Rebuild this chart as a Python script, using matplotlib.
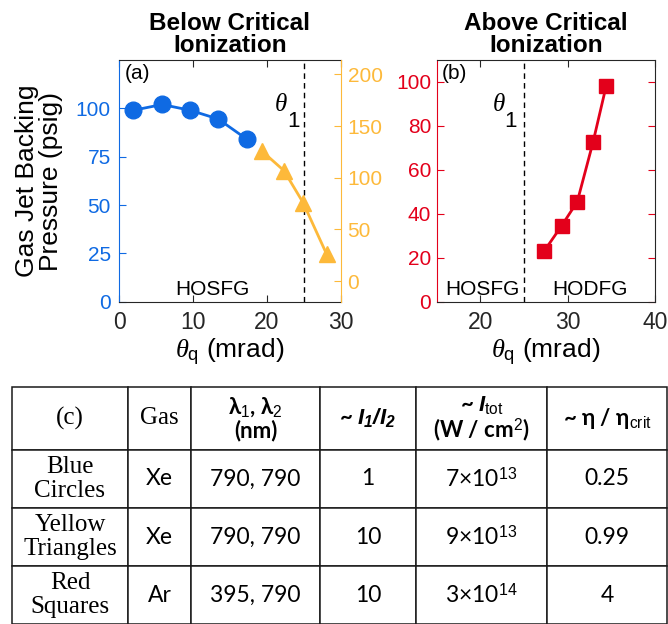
import matplotlib
matplotlib.use("Agg")
import matplotlib.pyplot as plt

# ---------------------------------------------------------------------------
# Data
# ---------------------------------------------------------------------------
blue_theta = [1.9, 5.8, 9.6, 13.4, 17.3]
blue_press = [99, 102, 99, 94.5, 84]

yellow_theta = [19.3, 22.3, 24.9, 28.1]
yellow_press = [126, 107, 76, 26]

red_theta = [27.3, 29.3, 31.1, 32.9, 34.4]
red_press = [23, 34.5, 45.5, 72.5, 98]

theta1 = 25

table_header = ["(c)", "Gas", "λ$_1$, λ$_2$\n(nm)",
                r"~ $\mathbfit{I_1 / I_2}$",
                "~ $\\mathbfit{I}_{\\mathrm{tot}}$\n(W / cm$^2$)",
                "~ η / η$_{\\mathrm{crit}}$"]
table_labels = ["Blue\nCircles", "Yellow\nTriangles", "Red\nSquares"]
table_gas = ["Xe", "Xe", "Ar"]
table_lambda = ["790, 790", "790, 790", "395, 790"]
table_ratio = ["1", "10", "10"]
table_itot = ["7×10$^{13}$", "9×10$^{13}$", "3×10$^{14}$"]
table_eta = ["0.25", "0.99", "4"]

# ---------------------------------------------------------------------------
# Style
# ---------------------------------------------------------------------------
BLUE = "#0f6ae3"
YELLOW = "#fdb93a"
RED = "#e3001b"
DARK = "#262626"

plt.rcParams["font.family"] = ["Liberation Sans", "DejaVu Sans"]
plt.rcParams["mathtext.fontset"] = "custom"
plt.rcParams["mathtext.rm"] = "Liberation Sans"
plt.rcParams["mathtext.sf"] = "Liberation Sans"
plt.rcParams["mathtext.it"] = "Liberation Serif:italic"
plt.rcParams["mathtext.bf"] = "Liberation Sans:bold"
plt.rcParams["mathtext.bfit"] = "Liberation Sans:italic:bold"

TICK_Y = 15
TICK_X = 16.5
LABEL = 19

fig = plt.figure(figsize=(6.68, 6.24), dpi=100)
fig.patch.set_facecolor("white")


def style_box(ax, left_colour):
    for side in ("top", "bottom"):
        ax.spines[side].set_color(DARK)
    ax.spines["left"].set_color(left_colour)
    ax.tick_params(axis="x", direction="in", length=5, colors=DARK,
                   labelsize=TICK_X, pad=7, top=True)
    ax.tick_params(axis="y", direction="in", length=5, colors=left_colour,
                   labelsize=TICK_Y)


def theta_one(ax, x, y):
    # theta with a large, low subscript 1 (MATLAB tex style)
    tr = ax.get_xaxis_transform()
    ax.text(x, y, r"$\theta$", transform=tr, fontsize=18, ha="left",
            va="center")
    span = ax.get_xlim()[1] - ax.get_xlim()[0]
    ax.text(x + 1.75 * span / 30, y - 0.075, "1", transform=tr,
            fontsize=16, ha="left", va="center")


# ---------------------------------------------------------------------------
# (a) Below critical ionization
# ---------------------------------------------------------------------------
ax1 = fig.add_axes([0.1786, 0.5165, 0.3314, 0.3873])
ax1.plot(blue_theta, blue_press, "-o", color=BLUE, lw=2, ms=12)
ax1.set_xlim(0, 30)
ax1.set_ylim(0, 125)
ax1.set_xticks([0, 10, 20, 30])
ax1.set_yticks([0, 25, 50, 75, 100])
ax1.axvline(theta1, color="black", lw=1, ls=(0, (4, 3)))
style_box(ax1, BLUE)
ax1.tick_params(axis="y", pad=6)
ax1.spines["right"].set_visible(False)

ax1b = ax1.twinx()
ax1b.plot(yellow_theta, yellow_press, "-^", color=YELLOW, lw=2, ms=12)
ax1b.set_ylim(-20, 214)
ax1b.set_yticks([0, 50, 100, 150, 200])
ax1b.spines["left"].set_visible(False)
ax1b.spines["top"].set_visible(False)
ax1b.spines["bottom"].set_visible(False)
ax1b.spines["right"].set_color(YELLOW)
ax1b.tick_params(axis="y", direction="in", length=5, colors=YELLOW,
                 labelsize=TICK_Y, pad=5)

ax1.set_title("Below Critical\nIonization", fontsize=17.5, fontweight="bold",
              pad=6, linespacing=0.95)
ax1.set_xlabel(r"$\theta_{\mathrm{q}}$ (mrad)", fontsize=LABEL, labelpad=2)
ax1.text(0.025, 0.985, "(a)", transform=ax1.transAxes, fontsize=15,
         ha="left", va="top")
theta_one(ax1, 21.0, 0.82)
ax1.text(12.6, 0.05, "HOSFG", transform=ax1.get_xaxis_transform(),
         fontsize=15, ha="center", va="center")

fig.text(39 / 668, 1 - 181 / 624, "Gas Jet Backing\nPressure (psig)",
         rotation=90, ha="center", va="center", fontsize=LABEL,
         linespacing=1.0)

# ---------------------------------------------------------------------------
# (b) Above critical ionization
# ---------------------------------------------------------------------------
ax2 = fig.add_axes([0.6537, 0.5165, 0.3268, 0.3873])
ax2.plot(red_theta, red_press, "-s", color=RED, lw=2, ms=10.5)
ax2.set_xlim(15, 40)
ax2.set_ylim(0, 110)
ax2.set_xticks([20, 30, 40])
ax2.set_yticks([0, 20, 40, 60, 80, 100])
ax2.axvline(theta1, color="black", lw=1, ls=(0, (4, 3)))
style_box(ax2, RED)
ax2.spines["right"].set_color(DARK)
ax2.tick_params(axis="y", right=True, pad=4)
for t in ax2.yaxis.get_ticklines()[1::2]:
    t.set_color(DARK)

ax2.set_title("Above Critical\nIonization", fontsize=17.5, fontweight="bold",
              pad=6, linespacing=0.95)
ax2.set_xlabel(r"$\theta_{\mathrm{q}}$ (mrad)", fontsize=LABEL, labelpad=2)
ax2.text(0.025, 0.985, "(b)", transform=ax2.transAxes, fontsize=15,
         ha="left", va="top")
theta_one(ax2, 21.3, 0.82)
ax2.text(20.2, 0.05, "HOSFG", transform=ax2.get_xaxis_transform(),
         fontsize=15, ha="center", va="center")
ax2.text(32.6, 0.05, "HODFG", transform=ax2.get_xaxis_transform(),
         fontsize=15, ha="center", va="center")

# ---------------------------------------------------------------------------
# (c) Table
# ---------------------------------------------------------------------------
axt = fig.add_axes([0.0175, 0.0, 0.981, 0.3803])
axt.axis("off")

rows = [table_header]
for i in range(len(table_labels)):
    rows.append([table_labels[i], table_gas[i], table_lambda[i],
                 table_ratio[i], table_itot[i], table_eta[i]])

col_widths = [116.6, 62.7, 129, 96, 131.3, 119.7]
row_heights = [63.3, 57.7, 58.3, 57.7]
tot_w = sum(col_widths)
tot_h = sum(row_heights)

tbl = axt.table(cellText=rows, cellLoc="center", bbox=[0, 0, 1, 1],
                colWidths=[w / tot_w for w in col_widths])
tbl.auto_set_font_size(False)
tbl.set_fontsize(16.5)

SERIF = ["Liberation Serif", "DejaVu Serif"]
SANS = ["Lato", "Liberation Sans", "DejaVu Sans"]
for (r, c), cell in tbl.get_celld().items():
    cell.set_height(row_heights[r] / tot_h)
    cell.set_linewidth(1.1)
    cell.set_edgecolor("#1a1a1a")
    txt = cell.get_text()
    if c == 0 or (r == 0 and c == 1):
        txt.set_fontfamily(SERIF)
        txt.set_fontsize(18)
        txt.set_linespacing(1.1)
    else:
        txt.set_fontfamily(SANS)
    if r == 0 and c >= 2:
        txt.set_fontweight("bold")
        txt.set_fontsize(16)
        txt.set_linespacing(1.0)

fig.savefig("out.png", dpi=100)
